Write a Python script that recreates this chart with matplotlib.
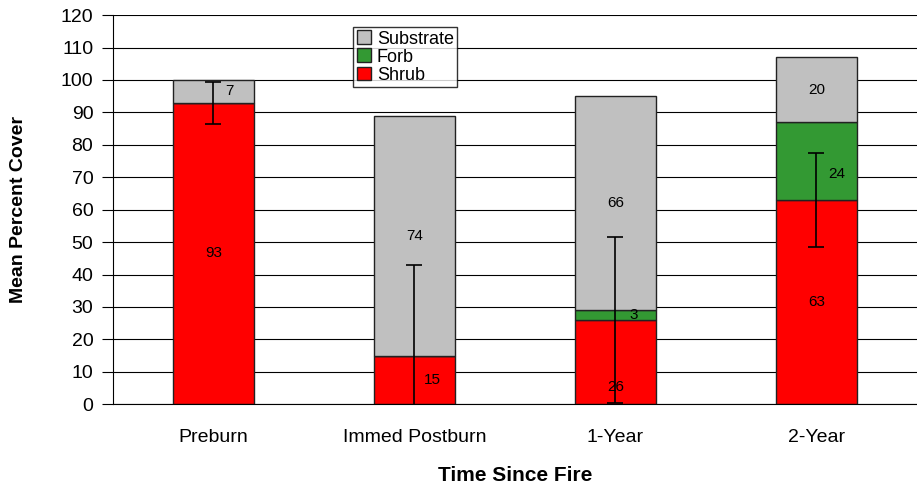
import numpy as np
import matplotlib.pyplot as plt

plt.rcParams['font.family'] = ['Liberation Sans', 'DejaVu Sans']

categories = ['Preburn', 'Immed Postburn', '1-Year', '2-Year']
shrub = [93, 15, 26, 63]
forb = [0, 0, 3, 24]
substrate = [7, 74, 66, 20]
shrub_err = [6.5, 28, 25.5, 14.5]

x = np.arange(len(categories))
shrub = np.array(shrub)
forb = np.array(forb)
substrate = np.array(substrate)

fig = plt.figure(figsize=(9.17, 4.87), dpi=100)
ax = fig.add_axes([0.123, 0.17, 0.877, 0.799])

ax.set_axisbelow(True)
ax.yaxis.grid(True, color='black', linewidth=0.8)

w = 0.4
ax.bar(x, shrub, w, color='#FF0000', edgecolor='#222222', linewidth=1, label='Shrub', zorder=2)
ax.bar(x, forb, w, bottom=shrub, color='#339933', edgecolor='#222222', linewidth=1, label='Forb', zorder=2)
ax.bar(x, substrate, w, bottom=shrub + forb, color='#C0C0C0', edgecolor='#222222', linewidth=1, label='Substrate', zorder=2)

ax.errorbar(x, shrub, yerr=shrub_err, fmt='none', ecolor='black', elinewidth=1.2, capsize=6, capthick=1.2, zorder=3)

# value labels; nudged off the error bar where they would sit on it
fs = 11
ax.text(x[0], shrub[0] / 2, str(shrub[0]), ha='center', va='center', fontsize=fs)
ax.text(x[0] + 0.08, shrub[0] + substrate[0] / 2, str(substrate[0]), ha='center', va='center', fontsize=fs)
ax.text(x[1] + 0.09, shrub[1] / 2, str(shrub[1]), ha='center', va='center', fontsize=fs)
ax.text(x[1], shrub[1] + substrate[1] / 2, str(substrate[1]), ha='center', va='center', fontsize=fs)
ax.text(x[2], shrub[2] / 5, str(shrub[2]), ha='center', va='center', fontsize=fs)
ax.text(x[2] + 0.09, shrub[2] + forb[2] / 2, str(forb[2]), ha='center', va='center', fontsize=fs)
ax.text(x[2], shrub[2] + forb[2] + substrate[2] / 2, str(substrate[2]), ha='center', va='center', fontsize=fs)
ax.text(x[3], shrub[3] / 2, str(shrub[3]), ha='center', va='center', fontsize=fs)
ax.text(x[3] + 0.1, shrub[3] + forb[3] / 2 - 4, str(forb[3]), ha='center', va='center', fontsize=fs)
ax.text(x[3], shrub[3] + forb[3] + substrate[3] / 2, str(substrate[3]), ha='center', va='center', fontsize=fs)

ax.set_xlim(-0.5, 3.5)
ax.set_ylim(0, 120)
ax.set_yticks(range(0, 121, 10))
ax.set_xticks(x)
ax.set_xticklabels(categories, fontsize=14)
ax.tick_params(axis='y', labelsize=14, length=8, direction='out', pad=6)
ax.tick_params(axis='x', length=0, pad=18)
for s in ['top', 'right']:
    ax.spines[s].set_visible(False)

ax.set_ylabel('Mean Percent Cover', fontsize=14, fontweight='bold', labelpad=24)
ax.set_xlabel('Time Since Fire', fontsize=15, fontweight='bold', labelpad=14)

h, l = ax.get_legend_handles_labels()
leg = ax.legend(h[::-1], l[::-1], loc='upper left', bbox_to_anchor=(0.299, 0.97), fontsize=13,
                frameon=True, fancybox=False, edgecolor='black', handlelength=0.8, handleheight=0.8,
                handletextpad=0.3, borderpad=0.2, labelspacing=0.05, borderaxespad=0)
leg.get_frame().set_linewidth(1)

plt.savefig('out.png', dpi=100)
plt.close()
